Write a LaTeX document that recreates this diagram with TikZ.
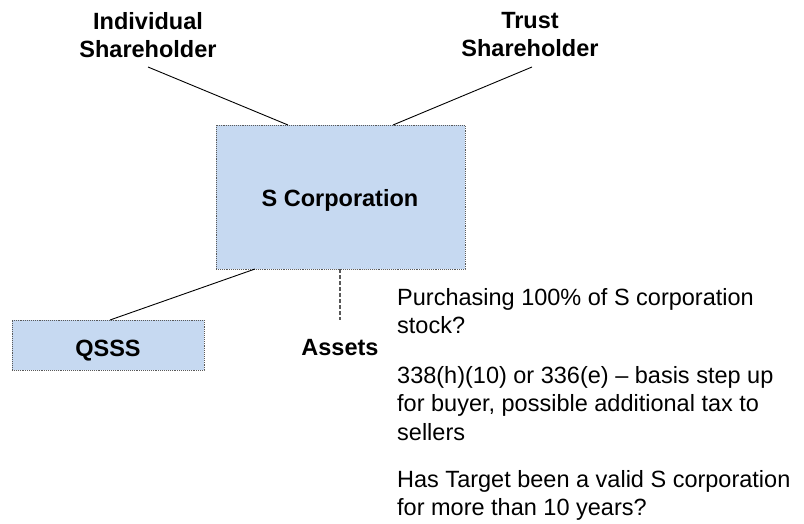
\documentclass[tikz,border=0pt]{standalone}
\usepackage{fontspec}
\setmainfont{Liberation Sans}
\definecolor{boxblue}{HTML}{C6D9F1}
\begin{document}
\begin{tikzpicture}[x=1pt,y=-1pt,
  entity/.style={draw=black!65, densely dotted, line width=0.9pt, fill=boxblue, inner sep=0pt},
  lbl/.style={font=\fontsize{23.5}{28}\selectfont\bfseries, align=center, inner sep=0pt, anchor=base},
  body/.style={font=\fontsize{23.5}{28.6}\selectfont, align=left, anchor=base west, inner sep=0pt},
  link/.style={draw=black, line width=0.9pt},
  dlink/.style={draw=black!65, dash pattern=on 4pt off 2pt, line width=1.2pt}]
\useasboundingbox (0,0) rectangle (804,523);
\node[entity, minimum width=249pt, minimum height=144pt] (sc) at (340.5,197) {};
\node[lbl] (sct) at (340,206) {S Corporation};
\node[entity, minimum width=192pt, minimum height=50pt] (q) at (108,345) {};
\node[lbl] (qt) at (108,356) {QSSS};
\node[lbl] (ind) at (148,57) {Individual\\Shareholder};
\node[lbl] (tr) at (530,56) {Trust\\Shareholder};
\node[lbl] (as) at (340,355) {Assets};
\coordinate (i1) at (148,67);
\coordinate (i2) at (288,125);
\coordinate (t1) at (532,67);
\coordinate (t2) at (393,125);
\coordinate (q1) at (255,269);
\coordinate (q2) at (110,320);
\coordinate (a1) at (340,269);
\coordinate (a2) at (340,320);
\draw[link] (i1) -- (i2);
\draw[link] (t1) -- (t2);
\draw[link] (q1) -- (q2);
\draw[dlink] (a1) -- (a2);
\node[body] (p1) at (397,333.6) {Purchasing 100\% of S corporation\\stock?};
\node[body] (p2) at (397,440.2) {338(h)(10) or 336(e) – basis step up\\for buyer, possible additional tax to\\sellers};
\node[body] (p3) at (397,515.6) {Has Target been a valid S corporation\\for more than 10 years?};
\end{tikzpicture}
\end{document}
